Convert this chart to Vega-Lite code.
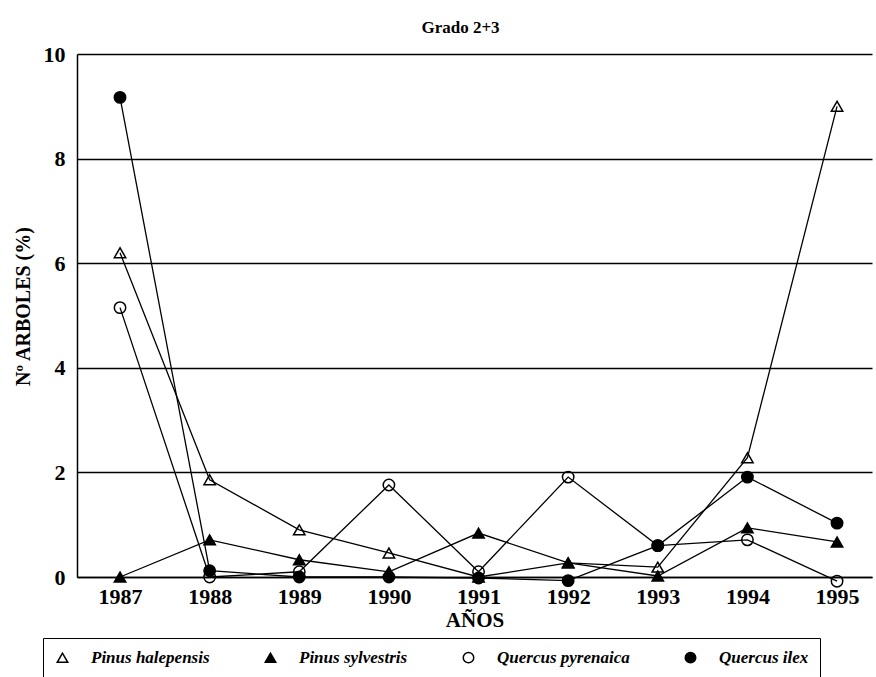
{
  "$schema": "https://vega.github.io/schema/vega-lite/v6.json",
  "width": 795,
  "height": 523,
  "autosize": "none",
  "padding": {"left": 77, "top": 54, "right": 4, "bottom": 100},
  "background": "white",
  "config": {
    "view": {"stroke": null},
    "font": "Liberation Serif"
  },
  "title": {
    "text": "Grado 2+3",
    "font": "Liberation Serif",
    "fontSize": 17,
    "fontWeight": "bold",
    "color": "black",
    "anchor": "middle",
    "dx": -14,
    "offset": 6
  },
  "data": {
    "values": [
      {"year": 1987, "species": "Pinus halepensis", "value": 6.2},
      {"year": 1988, "species": "Pinus halepensis", "value": 1.86},
      {"year": 1989, "species": "Pinus halepensis", "value": 0.9},
      {"year": 1990, "species": "Pinus halepensis", "value": 0.46},
      {"year": 1991, "species": "Pinus halepensis", "value": 0.0},
      {"year": 1992, "species": "Pinus halepensis", "value": 0.27},
      {"year": 1993, "species": "Pinus halepensis", "value": 0.19},
      {"year": 1994, "species": "Pinus halepensis", "value": 2.28},
      {"year": 1995, "species": "Pinus halepensis", "value": 9.0},
      {"year": 1987, "species": "Pinus sylvestris", "value": 0.0},
      {"year": 1988, "species": "Pinus sylvestris", "value": 0.71},
      {"year": 1989, "species": "Pinus sylvestris", "value": 0.33},
      {"year": 1990, "species": "Pinus sylvestris", "value": 0.1},
      {"year": 1991, "species": "Pinus sylvestris", "value": 0.84},
      {"year": 1992, "species": "Pinus sylvestris", "value": 0.27},
      {"year": 1993, "species": "Pinus sylvestris", "value": 0.02},
      {"year": 1994, "species": "Pinus sylvestris", "value": 0.94},
      {"year": 1995, "species": "Pinus sylvestris", "value": 0.67},
      {"year": 1987, "species": "Quercus pyrenaica", "value": 5.15},
      {"year": 1988, "species": "Quercus pyrenaica", "value": 0.0},
      {"year": 1989, "species": "Quercus pyrenaica", "value": 0.1},
      {"year": 1990, "species": "Quercus pyrenaica", "value": 1.76},
      {"year": 1991, "species": "Quercus pyrenaica", "value": 0.1},
      {"year": 1992, "species": "Quercus pyrenaica", "value": 1.91},
      {"year": 1993, "species": "Quercus pyrenaica", "value": 0.6},
      {"year": 1994, "species": "Quercus pyrenaica", "value": 0.71},
      {"year": 1995, "species": "Quercus pyrenaica", "value": -0.08},
      {"year": 1987, "species": "Quercus ilex", "value": 9.17},
      {"year": 1988, "species": "Quercus ilex", "value": 0.12},
      {"year": 1989, "species": "Quercus ilex", "value": 0.0},
      {"year": 1990, "species": "Quercus ilex", "value": 0.0},
      {"year": 1991, "species": "Quercus ilex", "value": -0.02},
      {"year": 1992, "species": "Quercus ilex", "value": -0.07},
      {"year": 1993, "species": "Quercus ilex", "value": 0.6},
      {"year": 1994, "species": "Quercus ilex", "value": 1.91},
      {"year": 1995, "species": "Quercus ilex", "value": 1.03}
    ]
  },
  "encoding": {
    "x": {
      "field": "year",
      "type": "quantitative",
      "scale": {"domain": [1986.52, 1995.39], "nice": false, "zero": false},
      "axis": {
        "values": [1987, 1988, 1989, 1990, 1991, 1992, 1993, 1994, 1995],
        "format": "d",
        "title": "AÑOS",
        "titleFont": "Liberation Serif",
        "titleFontSize": 21,
        "titleFontWeight": "bold",
        "titleColor": "black",
        "titlePadding": 2,
        "labelFont": "Liberation Serif",
        "labelFontSize": 22,
        "labelFontWeight": "bold",
        "labelColor": "black",
        "labelPadding": 9,
        "labelFlush": false,
        "labelOverlap": false,
        "grid": false,
        "ticks": false,
        "domainColor": "black",
        "domainWidth": 1.5
      }
    },
    "y": {
      "field": "value",
      "type": "quantitative",
      "scale": {"domain": [0, 10], "nice": false, "zero": false},
      "axis": {
        "values": [0, 2, 4, 6, 8, 10],
        "title": "Nº ARBOLES (%)",
        "titleFont": "Liberation Serif",
        "titleFontSize": 20,
        "titleFontWeight": "bold",
        "titleColor": "black",
        "titlePadding": 10,
        "titleY": 252,
        "labelFont": "Liberation Serif",
        "labelFontSize": 22,
        "labelFontWeight": "bold",
        "labelColor": "black",
        "labelPadding": 12,
        "ticks": false,
        "grid": true,
        "gridColor": "black",
        "gridWidth": 1.5,
        "gridOpacity": 1,
        "domainColor": "black",
        "domainWidth": 1.5
      }
    }
  },
  "layer": [
    {
      "mark": {"type": "line", "color": "black", "strokeWidth": 1.3},
      "encoding": {
        "detail": {"field": "species", "type": "nominal"},
        "order": {"field": "year", "type": "quantitative"}
      }
    },
    {
      "mark": {"type": "point", "filled": true, "stroke": "black", "strokeWidth": 1.5, "size": 130, "opacity": 1},
      "encoding": {
        "shape": {
          "field": "species",
          "type": "nominal",
          "scale": {
            "domain": ["Pinus halepensis", "Pinus sylvestris", "Quercus pyrenaica", "Quercus ilex"],
            "range": ["triangle-up", "triangle-up", "circle", "circle"]
          },
          "legend": {
            "title": null,
            "orient": "none",
            "direction": "horizontal",
            "legendX": -34,
            "legendY": 584,
            "padding": 11,
            "strokeColor": "black",
            "symbolSize": 110,
            "labelFont": "Liberation Serif",
            "labelFontSize": 17,
            "labelFontWeight": "bold",
            "labelFontStyle": "italic",
            "labelColor": "black",
            "labelOffset": 20,
            "columnPadding": 52,
            "labelLimit": 400,
            "encode": {
              "symbols": {
                "stroke": {"value": "black"},
                "strokeWidth": {"value": 1.5}
              }
            }
          }
        },
        "fill": {
          "field": "species",
          "type": "nominal",
          "scale": {
            "domain": ["Pinus halepensis", "Pinus sylvestris", "Quercus pyrenaica", "Quercus ilex"],
            "range": ["transparent", "black", "transparent", "black"]
          },
          "legend": null
        }
      }
    }
  ]
}
